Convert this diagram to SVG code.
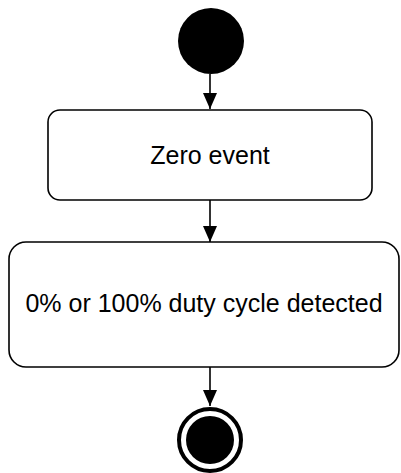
<svg xmlns="http://www.w3.org/2000/svg" width="401" height="473" viewBox="0 0 401 473">
  <defs>
    <marker id="arrow" viewBox="0 0 16 16" refX="16" refY="8" markerWidth="16" markerHeight="16" markerUnits="userSpaceOnUse" orient="auto">
      <path d="M0,1 L16,8 L0,15 Z" fill="#000"/>
    </marker>
  </defs>
  <style>
    .state { fill: #fff; stroke: #000; stroke-width: 1.6; }
    .label { font-family: "Liberation Sans", Arial, sans-serif; font-size: 25px; fill: #000; text-anchor: middle; }
    .edge { fill: none; stroke: #000; stroke-width: 1.6; marker-end: url(#arrow); }
  </style>
  <rect width="401" height="473" fill="#fff"/>

  <g id="connectors">
    <line class="edge" x1="210" y1="74" x2="210" y2="109"/>
    <line class="edge" x1="210" y1="200" x2="210" y2="242"/>
    <line class="edge" x1="210" y1="367" x2="210" y2="406"/>
  </g>

  <g id="start">
    <circle cx="211" cy="41" r="33" fill="#000"/>
  </g>

  <g id="zero-event">
    <rect class="state" x="48" y="110" width="324" height="90" rx="12" ry="12"/>
    <text class="label" x="210" y="164">Zero event</text>
  </g>

  <g id="duty-cycle-detected">
    <rect class="state" x="9" y="242" width="390" height="125" rx="17" ry="17"/>
    <text class="label" x="204" y="312">0% or 100% duty cycle detected</text>
  </g>

  <g id="end">
    <circle cx="210" cy="440" r="31" fill="#fff" stroke="#000" stroke-width="4"/>
    <circle cx="210" cy="440" r="24" fill="#000"/>
  </g>
</svg>
